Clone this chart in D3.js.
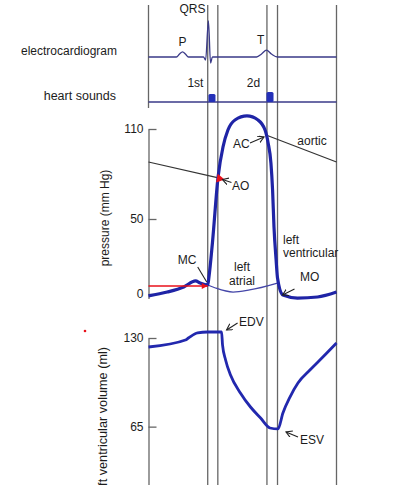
<!DOCTYPE html>
<html>
<head>
<meta charset="utf-8">
<script src="https://cdn.jsdelivr.net/npm/d3@7"></script>
<style>
  body { margin: 0; background: #fff; }
  text { font-family: "Liberation Sans", Arial, sans-serif; fill: #1c1c1c; }
</style>
</head>
<body>
<script>
// time in seconds over one cardiac cycle
var eventNames = ["MC", "AO", "AC", "MO"];
var eventTimes = [0.252, 0.295, 0.504, 0.549];

var ecg = [[0, 0], [0.119, 0], [0.132, 0.1], [0.145, 0.17], [0.157, 0.1], [0.17, 0],
  [0.234, 0], [0.243, -0.1], [0.255, 1.2], [0.264, -0.2], [0.272, 0],
  [0.46, 0], [0.481, 0.1], [0.502, 0.23], [0.523, 0.1], [0.549, 0], [0.8, 0]];

var soundLabels = ["1st", "2d"];
var soundStart = [0.255, 0.502];
var soundEnd = [0.285, 0.532];
var soundAmp = [0.8, 1.0];

var ventPressure = [[0, -1.3], [0.08, 1.3], [0.15, 4.7], [0.2, 8.7], [0.22, 7.3],
  [0.252, 6], [0.257, 11], [0.272, 34], [0.296, 78], [0.317, 98], [0.338, 109.3],
  [0.368, 116], [0.419, 118.7], [0.466, 116], [0.496, 109.3], [0.509, 100.7],
  [0.521, 87.3], [0.528, 69.3], [0.534, 44.7], [0.543, 22.7], [0.549, 10.7],
  [0.572, -0.7], [0.634, -2.7], [0.719, -2], [0.8, 1.3]];
var atrialPressure = [[0.252, 6], [0.285, 4], [0.36, 1.3], [0.43, 2.7], [0.549, 7.3]];
var aorticPressure = [[0, 88], [0.302, 77.3], null, [0.5, 106], [0.8, 88]];
var atrialLevel = [[0, 5.3], [0.252, 5.3]];
var aoPoint = [0.302, 77];

var ventVolume = [[0, 123.4], [0.157, 128.5], [0.17, 130], [0.209, 133.7], [0.251, 134.4],
  [0.311, 134.4], [0.315, 124.9], [0.328, 113.9], [0.349, 102.9], [0.391, 89.7],
  [0.434, 79.4], [0.477, 71.3], [0.517, 64], [0.551, 63.3], [0.572, 75],
  [0.602, 86.7], [0.636, 97], [0.687, 106.5], [0.742, 116], [0.8, 126.3]];

var pressureTicks = [0, 50, 110];
var volumeTicks = [65, 130];

var width = 398, height = 485;

var svg = d3
  .select("body")
  .append("svg")
  .attr("width", width)
  .attr("height", height);

svg.append("defs")
  .append("marker")
  .attr("id", "arr")
  .attr("markerUnits", "userSpaceOnUse")
  .attr("markerWidth", 8)
  .attr("markerHeight", 8)
  .attr("refX", 6)
  .attr("refY", 3.5)
  .attr("orient", "auto")
  .append("path")
  .attr("d", "M0,0 L6,3.5 L0,7")
  .attr("fill", "none")
  .attr("stroke", "#222")
  .attr("stroke-width", 1.1);

var x = d3.scaleLinear().domain([0, 0.8]).range([148.5, 336.5]);
var yEcg = d3.scaleLinear().domain([0, 1.2]).range([57, 21]);
var ySound = d3.scaleLinear().domain([0, 1]).range([102, 92]);
var yP = d3.scaleLinear().domain([-3, 110]).range([298.5, 129]);
var yV = d3.scaleLinear().domain([20, 130]).range([488, 338]);

// cycle boundaries and valve event lines
svg.append("line")
  .attr("x1", x(0)).attr("x2", x(0))
  .attr("y1", 5).attr("y2", 108)
  .attr("stroke", "#666").attr("stroke-width", 1.3);

svg.selectAll(".event")
  .data(eventTimes.concat([0.8]))
  .enter()
  .append("line")
  .attr("class", "event")
  .attr("x1", function (d) { return x(d); })
  .attr("x2", function (d) { return x(d); })
  .attr("y1", 5)
  .attr("y2", height)
  .attr("stroke", "#666")
  .attr("stroke-width", 1.3);

// electrocardiogram
var ecgLine = d3.line()
  .x(function (d) { return x(d[0]); })
  .y(function (d) { return yEcg(d[1]); })
  .curve(d3.curveMonotoneX);

svg.append("path")
  .datum(ecg)
  .attr("d", ecgLine)
  .attr("fill", "none")
  .attr("stroke", "#3a3a88")
  .attr("stroke-width", 1.3);

// heart sounds
svg.append("line")
  .attr("x1", x(0)).attr("x2", x(0.8))
  .attr("y1", ySound(0)).attr("y2", ySound(0))
  .attr("stroke", "#3a3a88")
  .attr("stroke-width", 1.3);

svg.selectAll(".sound")
  .data(soundLabels)
  .enter()
  .append("rect")
  .attr("class", "sound")
  .attr("x", function (d, i) { return x(soundStart[i]); })
  .attr("width", function (d, i) { return x(soundEnd[i]) - x(soundStart[i]); })
  .attr("y", function (d, i) { return ySound(soundAmp[i]); })
  .attr("height", function (d, i) { return ySound(0) - ySound(soundAmp[i]); })
  .attr("rx", 1.5)
  .attr("fill", "#2430b8");

svg.selectAll(".soundLabel")
  .data(soundLabels)
  .enter()
  .append("text")
  .attr("x", function (d, i) { return x(soundStart[i]) - 13; })
  .attr("y", 87)
  .style("text-anchor", "middle")
  .style("font-size", "12px")
  .text(function (d) { return d; });

var topLabels = [["QRS", 0.187, 13], ["P", 0.145, 46], ["T", 0.477, 44]];
svg.selectAll(".ecgLabel")
  .data(topLabels)
  .enter()
  .append("text")
  .attr("x", function (d) { return x(d[1]); })
  .attr("y", function (d) { return d[2]; })
  .style("text-anchor", "middle")
  .style("font-size", "12px")
  .text(function (d) { return d[0]; });

svg.append("text")
  .attr("x", 117).attr("y", 55)
  .style("text-anchor", "end")
  .style("font-size", "12px")
  .text("electrocardiogram");

svg.append("text")
  .attr("x", 116).attr("y", 100)
  .style("text-anchor", "end")
  .style("font-size", "12.5px")
  .text("heart sounds");

// pressure panel
var pLine = d3.line()
  .defined(function (d) { return d !== null; })
  .x(function (d) { return x(d[0]); })
  .y(function (d) { return yP(d[1]); });

svg.append("g")
  .attr("transform", "translate(" + x(0) + ",0)")
  .call(d3.axisLeft(yP).tickValues(pressureTicks).tickSizeInner(-8).tickSizeOuter(0).tickPadding(5))
  .call(function (g) {
    g.selectAll("line, path").attr("stroke", "#666").attr("stroke-width", 1.3);
    g.selectAll("text").style("font-size", "12px").style("font-family", "Liberation Sans, Arial, sans-serif").attr("fill", "#1c1c1c");
  });

svg.append("path")
  .datum(aorticPressure)
  .attr("d", pLine)
  .attr("fill", "none")
  .attr("stroke", "#333")
  .attr("stroke-width", 1.2);

svg.append("path")
  .datum(atrialPressure)
  .attr("d", pLine.curve(d3.curveMonotoneX))
  .attr("fill", "none")
  .attr("stroke", "#4446a8")
  .attr("stroke-width", 1.3);

svg.append("path")
  .datum(ventPressure)
  .attr("d", pLine.curve(d3.curveMonotoneX))
  .attr("fill", "none")
  .attr("stroke", "#1f24a6")
  .attr("stroke-width", 3.2)
  .attr("stroke-linejoin", "round");

svg.append("path")
  .datum(atrialLevel)
  .attr("d", pLine.curve(d3.curveLinear))
  .attr("fill", "none")
  .attr("stroke", "#e8101a")
  .attr("stroke-width", 1.4);

svg.append("path")
  .attr("transform", "translate(" + x(atrialLevel[1][0]) + "," + yP(atrialLevel[1][1]) + ")")
  .attr("d", "M0,0 L-6,-3 L-6,3 Z")
  .attr("fill", "#e8101a");

svg.append("path")
  .attr("transform", "translate(" + x(aoPoint[0]) + "," + yP(aoPoint[1]) + ") rotate(-20)")
  .attr("d", d3.symbol().type(d3.symbolTriangle).size(34))
  .attr("fill", "#e8101a");

svg.append("text")
  .attr("transform", "translate(105,218) rotate(-90)")
  .attr("dy", "0.35em")
  .style("text-anchor", "middle")
  .style("font-size", "12px")
  .text("pressure (mm Hg)");

var ac = [x(aorticPressure[3][0]), yP(aorticPressure[3][1])];
var ao = [x(aoPoint[0]), yP(aoPoint[1])];
var mc = [x(eventTimes[0]), yP(6)];
var mo = [x(eventTimes[3]), yP(7.3)];

function arrow(x1, y1, x2, y2, head) {
  var l = svg.append("line")
    .attr("x1", x1).attr("y1", y1)
    .attr("x2", x2).attr("y2", y2)
    .attr("stroke", "#222")
    .attr("stroke-width", 1.1);
  if (head) l.attr("marker-end", "url(#arr)");
}

arrow(ac[0] - 16, ac[1] + 8, ac[0] - 2, ac[1] + 2, true);
arrow(ao[0] + 12, ao[1] + 4, ao[0] + 3, ao[1] + 1, true);
arrow(mc[0] - 10, mc[1] - 18, mc[0] - 1, mc[1] - 3, false);
arrow(mo[0] + 17, mo[1] + 6, mo[0] + 5, mo[1] + 12, true);

var pLabels = [["AC", 233, 148, "start"], ["AO", 232, 190, "start"], ["aortic", 312, 145, "middle"],
  ["MC", 187, 264, "middle"], ["left", 242, 271, "middle"], ["atrial", 242, 285, "middle"],
  ["left", 283, 244, "start"], ["ventricular", 283, 257, "start"], ["MO", 300, 281, "start"]];

svg.selectAll(".pLabel")
  .data(pLabels)
  .enter()
  .append("text")
  .attr("x", function (d) { return d[1]; })
  .attr("y", function (d) { return d[2]; })
  .style("text-anchor", function (d) { return d[3]; })
  .style("font-size", "12px")
  .text(function (d) { return d[0]; });

// volume panel
svg.append("g")
  .attr("transform", "translate(" + x(0) + ",0)")
  .call(d3.axisLeft(yV).tickValues(volumeTicks).tickSizeInner(-8).tickSizeOuter(0).tickPadding(5))
  .call(function (g) {
    g.selectAll("line, path").attr("stroke", "#666").attr("stroke-width", 1.3);
    g.selectAll("text").style("font-size", "12px").style("font-family", "Liberation Sans, Arial, sans-serif").attr("fill", "#1c1c1c");
  });

var vLine = d3.line()
  .x(function (d) { return x(d[0]); })
  .y(function (d) { return yV(d[1]); })
  .curve(d3.curveMonotoneX);

svg.append("path")
  .datum(ventVolume)
  .attr("d", vLine)
  .attr("fill", "none")
  .attr("stroke", "#2228ae")
  .attr("stroke-width", 2.8)
  .attr("stroke-linejoin", "round");

var edv = [x(0.311), yV(134.4)];
var esv = [x(0.551), yV(63.3)];
arrow(edv[0] + 16, edv[1] - 9, edv[0] + 5, edv[1] - 2, true);
arrow(esv[0] + 20, esv[1] + 8, esv[0] + 8, esv[1] + 3, true);

svg.append("text")
  .attr("x", 239).attr("y", 326)
  .style("font-size", "12px")
  .text("EDV");

svg.append("text")
  .attr("x", 300).attr("y", 444)
  .style("font-size", "12px")
  .text("ESV");

svg.append("text")
  .attr("transform", "translate(103,347) rotate(-90)")
  .attr("dy", "0.35em")
  .style("text-anchor", "end")
  .style("font-size", "12.7px")
  .text("left ventricular volume (ml)");

svg.append("circle")
  .attr("cx", 85).attr("cy", 331).attr("r", 1.3)
  .attr("fill", "#e8101a");
</script>
</body>
</html>
